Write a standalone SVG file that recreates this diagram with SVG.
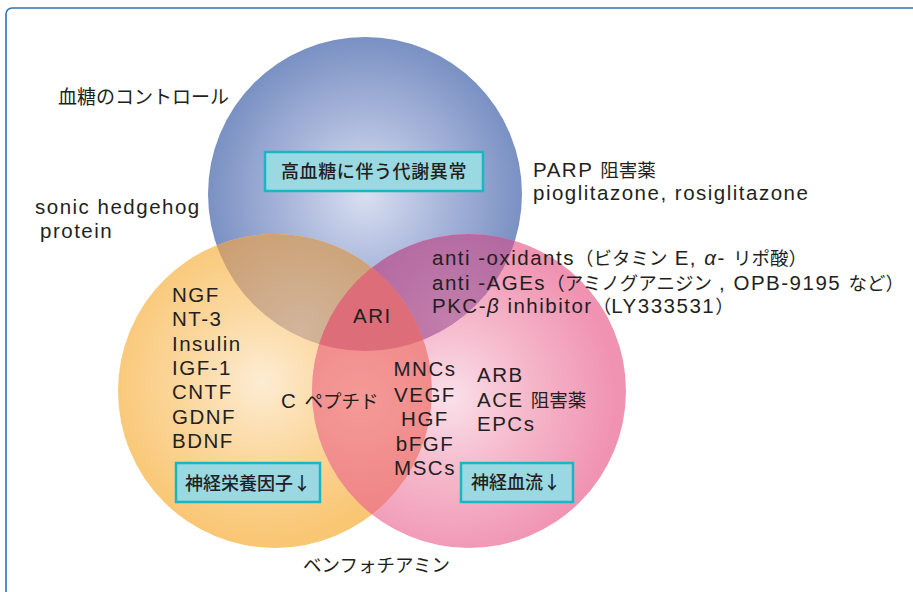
<svg xmlns="http://www.w3.org/2000/svg" width="913" height="592" viewBox="0 0 913 592">
<style>
.t{font-family:"Liberation Sans","Noto Sans CJK JP",sans-serif;font-size:20.5px;fill:#231f20;letter-spacing:1.5px}
.c{font-family:"Noto Sans CJK JP",sans-serif;font-size:18.5px;letter-spacing:0px}
.j{font-family:"Noto Sans CJK JP",sans-serif;fill:#231f20}
.bx{fill:#9ad8e2;stroke:#19b6c6;stroke-width:2.5}
.bt{font-family:"Noto Sans CJK JP",sans-serif;font-size:18px;font-weight:500;fill:#231f20}
</style>
<defs>
<radialGradient id="gB" cx="365" cy="195" r="157" gradientUnits="userSpaceOnUse">
<stop offset="0" stop-color="#d9dff1"/><stop offset="0.55" stop-color="#a4b2d8"/><stop offset="1" stop-color="#7a91c3"/>
</radialGradient>
<radialGradient id="gO" cx="262" cy="382" r="160" gradientUnits="userSpaceOnUse">
<stop offset="0" stop-color="#fdecd3"/><stop offset="0.5" stop-color="#fbd79d"/><stop offset="1" stop-color="#f9c673"/>
</radialGradient>
<radialGradient id="gP" cx="450" cy="398" r="165" gradientUnits="userSpaceOnUse">
<stop offset="0" stop-color="#fae0e9"/><stop offset="0.5" stop-color="#f5b6ca"/><stop offset="1" stop-color="#f093b2"/>
</radialGradient>
<radialGradient id="gOB" cx="300" cy="330" r="120" gradientUnits="userSpaceOnUse">
<stop offset="0" stop-color="#d2b59c"/><stop offset="1" stop-color="#cb9e6f"/>
</radialGradient>
<radialGradient id="gPB" cx="450" cy="320" r="130" gradientUnits="userSpaceOnUse">
<stop offset="0" stop-color="#c27eac"/><stop offset="1" stop-color="#ad629d"/>
</radialGradient>
<radialGradient id="gOP" cx="360" cy="400" r="130" gradientUnits="userSpaceOnUse">
<stop offset="0" stop-color="#f49a97"/><stop offset="1" stop-color="#ee8184"/>
</radialGradient>
<clipPath id="cO"><circle cx="275" cy="391" r="157"/></clipPath>
<clipPath id="cP"><circle cx="469" cy="391" r="157"/></clipPath>
</defs>
<rect x="0" y="0" width="913" height="592" fill="#ffffff"/>
<rect x="6" y="8" width="1000" height="700" rx="6" fill="none" stroke="#3270b4" stroke-width="1.6"/>

<g id="circle-blue"><circle cx="365" cy="194" r="157" fill="url(#gB)"/></g>
<g id="circle-orange"><circle cx="275" cy="391" r="157" fill="url(#gO)"/></g>
<g id="circle-pink"><circle cx="469" cy="391" r="157" fill="url(#gP)"/></g>
<g id="overlap-orange-blue" clip-path="url(#cO)"><circle cx="365" cy="194" r="157" fill="url(#gOB)"/></g>
<g id="overlap-pink-blue" clip-path="url(#cP)"><circle cx="365" cy="194" r="157" fill="url(#gPB)"/></g>
<g id="overlap-orange-pink" clip-path="url(#cO)"><circle cx="469" cy="391" r="157" fill="url(#gOP)"/></g>
<g id="overlap-all" clip-path="url(#cO)"><g clip-path="url(#cP)"><circle cx="365" cy="194" r="157" fill="#dc6d79"/></g></g>

<g id="label-blood-sugar"><text class="j" x="58" y="104" font-size="19">血糖のコントロール</text></g>
<g id="box-metabolic">
<rect class="bx" x="265" y="152" width="218" height="39"/>
<text class="bt" x="374" y="178" text-anchor="middle" letter-spacing="0.6">高血糖に伴う代謝異常</text>
</g>
<g id="label-parp">
<text class="t" x="533" y="177">PARP <tspan class="c">阻害薬</tspan></text>
<text class="t" x="533" y="200">pioglitazone, rosiglitazone</text>
</g>
<g id="label-sonic">
<text class="t" x="35" y="214">sonic hedgehog</text>
<text class="t" x="40" y="238">protein</text>
</g>
<g id="label-anti">
<text class="t" x="432" y="265">anti -oxidants<tspan class="c">（ビタミン</tspan> E, <tspan font-style="italic">α</tspan>- <tspan class="c">リポ酸）</tspan></text>
<text class="t" x="432" y="290">anti -AGEs<tspan class="c">（アミノグアニジン</tspan> , OPB-9195 <tspan class="c">など）</tspan></text>
<text class="t" x="432" y="313">PKC-<tspan font-style="italic">β</tspan> inhibitor<tspan class="c">（</tspan>LY333531<tspan class="c">）</tspan></text>
</g>
<g id="label-ari"><text class="t" x="353" y="323">ARI</text></g>
<g id="label-growth">
<text class="t" x="172" y="302">NGF</text>
<text class="t" x="172" y="326">NT-3</text>
<text class="t" x="172" y="351">Insulin</text>
<text class="t" x="172" y="375">IGF-1</text>
<text class="t" x="172" y="399">CNTF</text>
<text class="t" x="172" y="424">GDNF</text>
<text class="t" x="172" y="448">BDNF</text>
</g>
<g id="label-cpeptide"><text class="t" x="281" y="408">C <tspan class="c">ペプチド</tspan></text></g>
<g id="label-cells">
<text class="t" x="425" y="376" text-anchor="middle">MNCs</text>
<text class="t" x="425" y="402" text-anchor="middle">VEGF</text>
<text class="t" x="425" y="426" text-anchor="middle">HGF</text>
<text class="t" x="425" y="451" text-anchor="middle">bFGF</text>
<text class="t" x="425" y="475" text-anchor="middle">MSCs</text>
</g>
<g id="label-arb">
<text class="t" x="477" y="382">ARB</text>
<text class="t" x="477" y="407">ACE <tspan class="c">阻害薬</tspan></text>
<text class="t" x="477" y="431">EPCs</text>
</g>
<g id="box-neurotrophic">
<rect class="bx" x="176" y="463" width="144" height="39"/>
<text class="bt" x="185" y="490">神経栄養因子↓</text>
</g>
<g id="box-bloodflow">
<rect class="bx" x="461" y="463" width="112" height="39"/>
<text class="bt" x="471" y="489">神経血流↓</text>
</g>
<g id="label-benfotiamine"><text class="j" x="303" y="572" font-size="18.5">ベンフォチアミン</text></g>
</svg>
